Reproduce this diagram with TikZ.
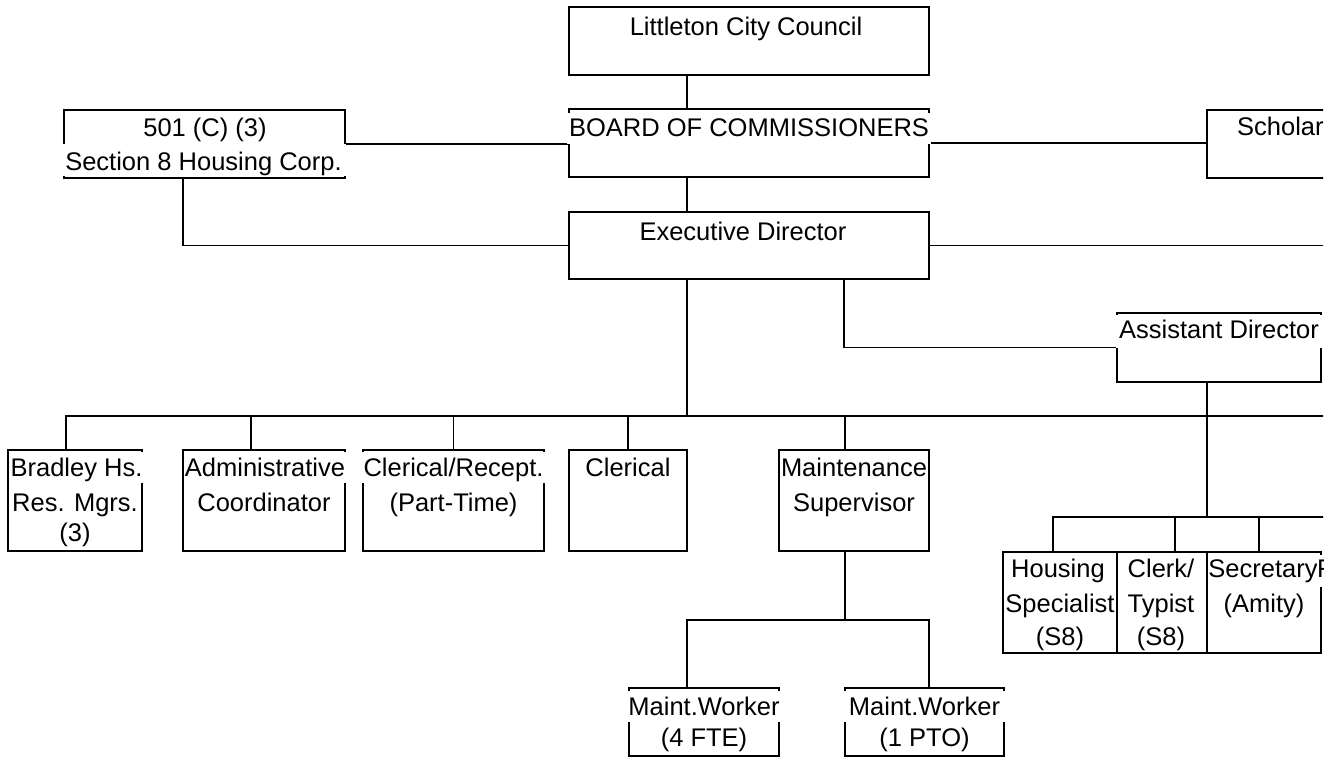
\documentclass[tikz,border=0pt]{standalone}
\usepackage{fontspec}
\setmainfont{Liberation Sans}
\newcommand{\lblfont}{\fontsize{25.5pt}{30pt}\selectfont}
\begin{document}
\begin{tikzpicture}[x=1pt,y=-1pt,
  box/.style={draw, line width=1.7pt, inner sep=0pt, outer sep=0pt, anchor=north west},
  lbl/.style={fill=white, inner xsep=2pt, inner ysep=0pt, text height=24pt, text depth=7pt, anchor=base, font=\lblfont},
  lowlbl/.style={lbl, text height=22pt, text depth=10pt},
  wire/.style={line width=1.7pt}]
\useasboundingbox (0,0) rectangle (1336,757);
\begin{scope}
\clip (0,0) rectangle (1323,757);
% boxes
\node[box, minimum width=360pt, minimum height=68pt] (lcc) at (569,7) {};
\node[box, minimum width=360pt, minimum height=68pt] (board) at (569,109) {};
\node[box, minimum width=360pt, minimum height=67pt] (exec) at (569,212) {};
\node[box, minimum width=281pt, minimum height=68pt] (corp) at (64,110) {};
\node[box, minimum width=200pt, minimum height=68pt] (schol) at (1207,110) {};
\node[box, minimum width=204pt, minimum height=69pt] (asst) at (1117,313) {};
\node[box, minimum width=134pt, minimum height=101pt] (brad) at (8,450) {};
\node[box, minimum width=162pt, minimum height=101pt] (admin) at (183,450) {};
\node[box, minimum width=181pt, minimum height=101pt] (recep) at (363,450) {};
\node[box, minimum width=118pt, minimum height=101pt] (cler) at (569,450) {};
\node[box, minimum width=150pt, minimum height=101pt] (msup) at (779,450) {};
\node[box, minimum width=114pt, minimum height=101pt] (hous) at (1003,552) {};
\node[box, minimum width=90pt, minimum height=101pt] (clerk) at (1117,552) {};
\node[box, minimum width=114pt, minimum height=101pt] (secr) at (1207,552) {};
\node[box, minimum width=150pt, minimum height=68pt] (mwa) at (629,688) {};
\node[box, minimum width=159pt, minimum height=68pt] (mwb) at (845,688) {};
% helper coordinates
\coordinate (bus) at (0,416);
\coordinate (bustwo) at (0,517);
\coordinate (busthree) at (0,620);
\coordinate (redge) at (1330,0);
% connectors
\draw[wire] ([xshift=-62pt]lcc.south) -- ([xshift=-62pt]board.north);
\draw[wire] ([xshift=-62pt]board.south) -- ([xshift=-62pt]exec.north);
\draw[wire] (corp.east) -- (corp.east -| board.west);
\draw[wire] (board.east) -- (board.east -| schol.west);
\draw[wire] ([xshift=-21.5pt]corp.south) |- (exec.west);
\draw[wire] (exec.east) -- (exec.east -| redge);
\draw[wire] ([xshift=-62pt]exec.south) -- ([xshift=-62pt]exec.south |- bus);
\draw[wire] ([xshift=95pt]exec.south) |- (asst.west);
\draw[wire] ([xshift=-9pt]brad.north) |- (redge |- bus);
\draw[wire] ([xshift=-13pt]admin.north) -- ([xshift=-13pt]admin.north |- bus);
\draw[wire] (recep.north) -- (recep.north |- bus);
\draw[wire] (cler.north) -- (cler.north |- bus);
\draw[wire] ([xshift=-9pt]msup.north) -- ([xshift=-9pt]msup.north |- bus);
\draw[wire] ([xshift=-12pt]asst.south) -- ([xshift=-12pt]asst.south |- bustwo);
\draw[wire] ([xshift=-7pt]hous.north) |- (redge |- bustwo);
\draw[wire] ([xshift=13pt]clerk.north) -- ([xshift=13pt]clerk.north |- bustwo);
\draw[wire] ([xshift=-5pt]secr.north) -- ([xshift=-5pt]secr.north |- bustwo);
\draw[wire] ([xshift=-9pt]msup.south) -- ([xshift=-9pt]msup.south |- busthree);
\draw[wire] ([xshift=-17pt]mwa.north) |- ([xshift=4.5pt]mwb.north |- busthree) -- ([xshift=4.5pt]mwb.north);
% labels
\node[lbl] (tlcc) at (746,36) {Littleton City Council};
\node[lbl] (tboard) at (749,137) {BOARD OF COMMISSIONERS};
\node[lbl] (texec) at (743,240) {Executive Director};
\node[lbl] (tcorpa) at (205,137) {501 (C) (3)};
\node[lbl, inner xsep=4pt, text height=27pt, text depth=5pt] (tcorpb) at (203.5,171) {Section 8 Housing Corp.};
\node[lbl, anchor=base west, inner xsep=0pt] (tschol) at (1237,136) {Scholar};
\node[lbl, inner xsep=3.5pt, text height=23pt, text depth=10pt] (tasst) at (1219,338) {Assistant Director};
\node[lbl, inner xsep=1pt] (tbrada) at (76.5,476) {Bradley Hs.};
\node[lbl, inner xsep=1pt] (tbradb) at (75,511) {Res. Mgrs.};
\node[lbl, text depth=5pt] (tbradc) at (75,541) {(3)};
\node[lbl, inner xsep=1pt] (tadma) at (265,476) {Administrative};
\node[lbl] (tadmb) at (264,511) {Coordinator};
\node[lbl] (treca) at (453.5,476) {Clerical/Recept.};
\node[lbl] (trecb) at (453.5,511) {(Part-Time)};
\node[lbl] (tcler) at (628,476) {Clerical};
\node[lbl, inner xsep=0.5pt] (tmsupa) at (854,476) {Maintenance};
\node[lbl] (tmsupb) at (854,511) {Supervisor};
\node[lowlbl] (thousa) at (1058,577) {Housing};
\node[lowlbl, inner xsep=0.5pt] (thousb) at (1060,612) {Specialist};
\node[lbl, text depth=5pt] (thousc) at (1060,645) {(S8)};
\node[lowlbl] (tclerka) at (1161,577) {Clerk/};
\node[lowlbl] (tclerkb) at (1161,612) {Typist};
\node[lbl, text depth=5pt] (tclerkc) at (1161,645) {(S8)};
\node[lowlbl, inner xsep=0.5pt] (tsecra) at (1263,577) {Secretary};
\node[lowlbl, anchor=base west, inner xsep=0pt] (tnext) at (1317,577) {F};
\node[lowlbl] (tsecrb) at (1264,612) {(Amity)};
\node[lbl] (tmwaa) at (704,715) {Maint.Worker};
\node[lbl, text depth=5pt] (tmwab) at (704,746) {(4 FTE)};
\node[lbl, inner xsep=5pt] (tmwba) at (924.5,715) {Maint.Worker};
\node[lbl, text depth=5pt] (tmwbb) at (924.5,746) {(1 PTO)};
\end{scope}
\end{tikzpicture}
\end{document}
